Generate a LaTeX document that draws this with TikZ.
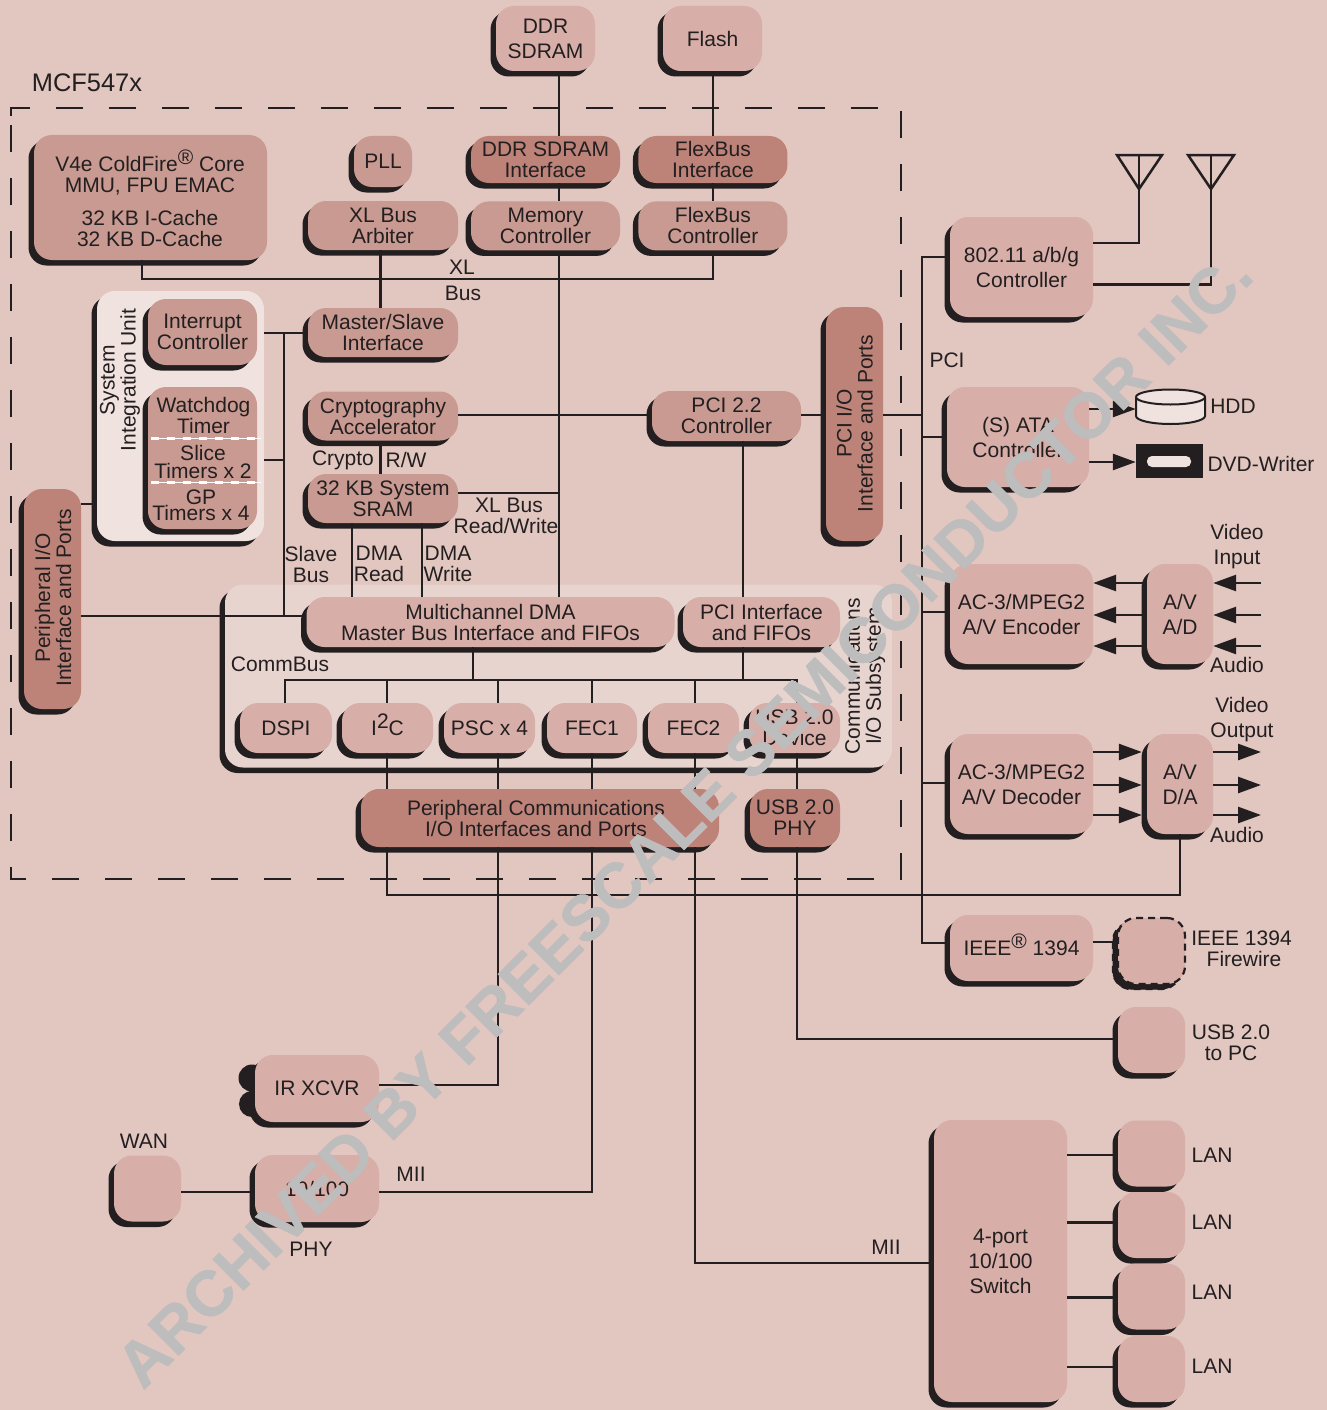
\documentclass[tikz,border=0pt]{standalone}
\usepackage{fontspec}
\setmainfont{Liberation Sans}
\newfontfamily\stampfont{Liberation Sans}[BoldFeatures={FakeBold=0.9}]
\usetikzlibrary{arrows.meta,positioning,shadows}

\definecolor{bgcol}{HTML}{E2C6C0}
\definecolor{linecol}{HTML}{231F20}
\definecolor{lightcol}{HTML}{D7AEA8}
\definecolor{midcol}{HTML}{C99A91}
\definecolor{darkcol}{HTML}{BD8379}
\definecolor{siucol}{HTML}{F0E3DF}
\definecolor{commcol}{HTML}{E8D4CF}
\definecolor{stampcol}{HTML}{BDBDBD}

\newcommand{\lift}[1]{\smash{\raisebox{6.5pt}{#1}}}

\begin{document}
\begin{tikzpicture}[x=1pt,y=-1pt,>=Stealth,
    tight/.style={font=\fontsize{21}{21}\selectfont},
    loose/.style={font=\fontsize{21}{25}\selectfont},
    main box/.style={rounded corners=18pt,inner sep=0pt,align=center,text=linecol,tight,
      drop shadow={shadow xshift=-5.5pt,shadow yshift=-5.5pt,fill=linecol,opacity=1}},
    light box/.style={main box,fill=lightcol},
    mid box/.style={main box,fill=midcol},
    dark box/.style={main box,fill=darkcol},
    bus box/.style={minimum width=150,minimum height=49},
    ext box/.style={light box,loose,minimum width=67,minimum height=66},
    av box/.style={light box,loose,minimum height=100},
    tag/.style={inner sep=0pt,align=center,text=linecol,tight},
    link/.style={draw=linecol,line width=2.7pt},
    feed/.style={link,-{Triangle[length=23pt,width=16pt]}}]

  \fill[bgcol] (0,0) rectangle (1327,1410);
  \useasboundingbox (0,0) rectangle (1327,1410);

  % chip outline
  \node[tag,font=\fontsize{25.4}{27}\selectfont] (chipname) at (87,83) {MCF547x};
  \draw[linecol,line width=2.7pt,dash pattern=on 27pt off 26pt]
    (11,116) -- (11,108) -- (901,108) -- (901,879) -- (11,879) -- (11,116);

  % panels
  \node[main box,fill=siucol,minimum width=167,minimum height=250] (siu) at (180.5,416) {};
  \node[main box,fill=commcol,minimum width=667,minimum height=183] (comm) at (558.5,676) {};
  \node[tag,rotate=90] (siutext) at (120,380) {System\\Integration Unit};
  \node[tag,rotate=90] (commtext) at (865,676) {Communications\\I/O Subsystem};

  % memory column
  \node[light box,loose,minimum width=99,minimum height=65] (ddrsdram) at (545.5,38.5) {DDR\\SDRAM};
  \node[light box,loose,minimum width=99,minimum height=65] (flash) at (712.5,38.5) {Flash};
  \node[dark box,minimum width=149,minimum height=47] (ddrif) at (545.5,159.5) {DDR SDRAM\\Interface};
  \node[dark box,minimum width=149,minimum height=47] (flexif) [right=18pt of ddrif] {FlexBus\\Interface};
  \node[mid box,minimum width=149,minimum height=49] (memctl) [below=18pt of ddrif] {Memory\\Controller};
  \node[mid box,minimum width=149,minimum height=49] (flexctl) [below=18pt of flexif] {FlexBus\\Controller};

  % core column
  \node[mid box,minimum width=233,minimum height=125] (core) at (150.5,197.5) {};
  \node[tag] (coretext) at (150,201)
    {V4e ColdFire\lift{®} Core\\MMU, FPU EMAC\\[12pt]32 KB I-Cache\\32 KB D-Cache};
  \node[mid box,minimum width=58,minimum height=51] (pll) at (383,161.5) {PLL};
  \node[mid box,bus box] (arbiter) at (383,225.5) {XL Bus\\Arbiter};
  \node[mid box,bus box] (master) at (383,332.5) {Master/Slave\\Interface};
  \node[mid box,bus box] (crypto) at (383,416) {Cryptography\\Accelerator};
  \node[mid box,bus box] (sram) at (383,498.5) {32 KB System\\SRAM};
  \node[mid box,minimum width=149,minimum height=50] (pci) at (726.5,416) {PCI 2.2\\Controller};

  % system integration unit
  \node[mid box,minimum width=109,minimum height=66] (irq) at (202.5,332) {Interrupt\\Controller};
  \node[mid box,minimum width=109,minimum height=142] (timers) at (202.5,458) {};
  \node[tag] (wdog) at (203.5,415) {Watchdog\\Timer};
  \node[tag,font=\fontsize{21}{17.5}\selectfont] (slice) at (203,462) {Slice\\Timers x 2};
  \node[tag,font=\fontsize{21}{16.5}\selectfont] (gptimer) at (201,505.5) {GP\\Timers x 4};
  \draw[white,line width=0.8pt] (151,438.5) -- (261,438.5) (151,482.5) -- (261,482.5);
  \draw[white,line width=3.5pt,dash pattern=on 8pt off 8pt] (151,438.5) -- (261,438.5)
    (151,482.5) -- (261,482.5);

  % ports
  \node[dark box,minimum width=57,minimum height=220] (perio) at (52.5,599) {};
  \node[tag,rotate=90] (periotext) at (53,598) {Peripheral I/O\\Interface and Ports};
  \node[dark box,minimum width=57,minimum height=234] (pcio) at (854.5,424) {};
  \node[tag,rotate=90] (pciotext) at (854.5,423.5) {PCI I/O\\Interface and Ports};

  % comm subsystem
  \node[light box,minimum width=368,minimum height=50] (dma) at (490.5,622) {Multichannel DMA\\Master Bus Interface and FIFOs};
  \node[light box,minimum width=157,minimum height=50] (pciif) at (761.5,622) {PCI Interface\\and FIFOs};
  \node[light box,minimum width=92,minimum height=50] (dspi) at (286,728) {DSPI};
  \node[light box,minimum width=91,minimum height=50] (iic) at (387.5,728) {I\lift{2}C};
  \node[light box,minimum width=91,minimum height=50] (psc) at (489.5,728) {PSC x 4};
  \node[light box,minimum width=90,minimum height=50] (fecone) at (592,728) {FEC1};
  \node[light box,minimum width=91,minimum height=50] (fectwo) at (693.5,728) {FEC2};
  \node[light box,minimum width=91,minimum height=50] (usbdev) at (794.5,728) {USB 2.0\\Device};
  \node[dark box,minimum width=358,minimum height=58] (percom) at (540,818) {};
  \node[tag] (percomtext) at (536,818.5) {Peripheral Communications\\I/O Interfaces and Ports};
  \node[dark box,minimum width=90,minimum height=58] (usbphy) at (795,818) {USB 2.0\\PHY};

  % right side
  \node[light box,loose,minimum width=143,minimum height=100] (wifi) at (1021.5,267) {802.11 a/b/g\\Controller};
  \node[light box,loose,minimum width=142,minimum height=100] (ata) at (1018,437) {(S) ATA\\Controller};
  \node[av box,minimum width=143] (encoder) at (1021.5,614) {AC-3/MPEG2\\A/V Encoder};
  \node[av box,minimum width=143] (decoder) at (1021.5,784) {AC-3/MPEG2\\A/V Decoder};
  \node[av box,minimum width=66] (avad) at (1180,614) {A/V\\A/D};
  \node[av box,minimum width=66] (avda) at (1180,784) {A/V\\D/A};
  \node[light box,minimum width=143,minimum height=66] (ieee) at (1021.5,948) {IEEE\lift{®} 1394};
  \node[ext box,draw=linecol,line width=2.2pt,dash pattern=on 7pt off 5pt,
    drop shadow={shadow xshift=-5pt,shadow yshift=-5pt,fill=linecol,draw=linecol,opacity=1}] (firewire) at (1151.5,951) {};
  \node[ext box] (usbpc) at (1151.5,1040) {};
  \node[light box,loose,minimum width=133,minimum height=282] (switch) at (1000.5,1261) {4-port\\10/100\\Switch};
  \node[ext box] (lanone) at (1151.5,1153.5) {};
  \node[ext box] (lantwo) at (1151.5,1225) {};
  \node[ext box] (lanthree) at (1151.5,1296.5) {};
  \node[ext box] (lanfour) at (1151.5,1369) {};

  % lower left
  \fill[linecol] (252,1078) circle (13.5pt) (252,1104) circle (13pt);
  \node[light box,minimum width=124,minimum height=67] (irxcvr) at (317,1088.5) {IR XCVR};
  \node[light box,minimum width=124,minimum height=67] (phy) at (317,1188.5) {10/100};
  \node[ext box] (wan) at (147.5,1188.5) {};

  % drives
  \fill[siucol] (1136,398) -- (1136,416) arc[start angle=180,end angle=360,x radius=34.5pt,y radius=8pt]
    -- (1205,398) -- cycle;
  \draw[linecol,line width=2pt] (1136,398) -- (1136,416) arc[start angle=180,end angle=360,x radius=34.5pt,y radius=8pt]
    -- (1205,398);
  \draw[linecol,line width=2pt,fill=siucol] (1170.5,397) ellipse[x radius=34.5pt,y radius=7.5pt];
  \node[inner sep=0pt,minimum width=69,minimum height=34] (hdd) at (1170.5,407) {};
  \node[fill=linecol,inner sep=0pt,minimum width=67,minimum height=34] (dvd) at (1169.5,461) {};
  \node[fill=siucol,rounded corners=5pt,inner sep=0pt,minimum width=44,minimum height=11] (dvdslot) at (1169,461.5) {};

  % antennas
  \coordinate (antone) at (1139,189);
  \coordinate (anttwo) at (1211,189);
  \draw[linecol,line width=2.5pt,line join=miter] (1117,155) -- (1162,155) -- (antone) -- cycle
    (1188,155) -- (1234,155) -- (anttwo) -- cycle;
  \draw[link] (1139,155) -- (antone) (1211,155) -- (anttwo);

  % connectors
  \path[link,every edge/.style={link}]
    (ddrsdram.south -| 559,0) edge (ddrif.north -| 559,0)
    (flash.south -| 713,0) edge (flexif.north -| 713,0)
    (ddrif.south -| 559,0) edge (memctl.north -| 559,0)
    (flexif.south -| 713,0) edge (flexctl.north -| 713,0)
    (memctl.south -| 559,0) edge (dma.north -| 559,0)
    (arbiter.south -| 380.5,0) edge (master.north -| 380.5,0)
    (crypto.south -| 380.5,0) edge (sram.north -| 380.5,0)
    (sram.south -| 352,0) edge (dma.north -| 352,0)
    (sram.south -| 422,0) edge (dma.north -| 422,0)
    (pci.south -| 743,0) edge (pciif.north -| 743,0)
    (crypto.east |- 0,415) edge (pci.west |- 0,415)
    (pci.east |- 0,415) edge (pcio.west |- 0,415)
    (pcio.east |- 0,415) edge (922,415)
    (sram.east |- 0,493) edge (559,493)
    (perio.east |- 0,504) edge (siu.west |- 0,504)
    (perio.east |- 0,616) edge (dma.west |- 0,616)
    (siu.east |- 0,460) edge (284,460)
    (dma.south -| 473,0) edge (473,680)
    (pciif.south -| 743,0) edge (743,680)
    (iic.north -| 387,0) edge (387,680)
    (psc.north -| 498,0) edge (498,680)
    (fecone.north -| 592,0) edge (592,680)
    (fectwo.north -| 695,0) edge (695,680)
    (iic.south -| 387,0) edge (percom.north -| 387,0)
    (psc.south -| 498,0) edge (percom.north -| 498,0)
    (fecone.south -| 592,0) edge (percom.north -| 592,0)
    (fectwo.south -| 695,0) edge (percom.north -| 695,0)
    (usbdev.south -| 797,0) edge (usbphy.north -| 797,0)
    (ata.west |- 0,437) edge (922,437)
    (encoder.west |- 0,612) edge (922,612)
    (decoder.west |- 0,783) edge (922,783)
    (ieee.east |- 0,942) edge (firewire.west |- 0,942)
    (wan.east |- 0,1192) edge (phy.west |- 0,1192)
    (switch.east |- 0,1155) edge (lanone.west |- 0,1155)
    (switch.east |- 0,1222.5) edge (lantwo.west |- 0,1222.5)
    (switch.east |- 0,1297.5) edge (lanthree.west |- 0,1297.5)
    (switch.east |- 0,1367) edge (lanfour.west |- 0,1367);
  \draw[link] (core.south -| 142,0) -- (142,279) -| (flexctl.south -| 713,0);
  \draw[link] (master.west |- 0,333) -- (siu.east |- 0,333);
  \draw[link] (284,333) -- (284,616);
  \draw[link] (dspi.north -| 285,0) -- (285,680) -| (usbdev.north -| 797,0);
  \draw[link] (percom.south -| 387,0) -- (387,895) -| (avda.south -| 1180,0);
  \draw[link] (percom.south -| 498,0) |- (irxcvr.east |- 0,1085);
  \draw[link] (percom.south -| 592,0) |- (phy.east |- 0,1192);
  \draw[link] (percom.south -| 695,0) |- (switch.west |- 0,1263);
  \draw[link] (usbphy.south -| 797,0) |- (usbpc.west |- 0,1039);
  \draw[link] (wifi.west |- 0,257) -- (922,257) -- (922,943) -- (ieee.west |- 0,943);
  \draw[link] (wifi.east |- 0,243) -| (antone);
  \draw[link] (wifi.east |- 0,284.5) -| (anttwo);

  % arrows
  \draw[feed] (ata.east |- 0,409) -- (hdd.west |- 0,409);
  \draw[feed] (ata.east |- 0,462) -- (dvd.west |- 0,462);
  \draw[feed] (avad.west |- 0,583) -- (encoder.east |- 0,583);
  \draw[feed] (avad.west |- 0,615) -- (encoder.east |- 0,615);
  \draw[feed] (avad.west |- 0,646) -- (encoder.east |- 0,646);
  \draw[feed,shorten >=5pt] (decoder.east |- 0,752) -- (avda.west |- 0,752);
  \draw[feed,shorten >=5pt] (decoder.east |- 0,785) -- (avda.west |- 0,785);
  \draw[feed,shorten >=5pt] (decoder.east |- 0,815) -- (avda.west |- 0,815);
  \coordinate (videoin) at (1261,583);
  \coordinate (midin) at (1261,615);
  \coordinate (audioin) at (1261,646);
  \coordinate (videoout) at (1261,752);
  \coordinate (midout) at (1261,785);
  \coordinate (audioout) at (1261,815);
  \draw[feed] (videoin) -- (avad.east |- videoin);
  \draw[feed] (midin) -- (avad.east |- midin);
  \draw[feed] (audioin) -- (avad.east |- audioin);
  \draw[feed] (avda.east |- videoout) -- (videoout);
  \draw[feed] (avda.east |- midout) -- (midout);
  \draw[feed] (avda.east |- audioout) -- (audioout);

  % labels
  \node[tag] (xllabel) at (462,267) {XL};
  \node[tag] (buslabel) at (463,293) {Bus};
  \node[tag] (cryptolabel) at (343,460) {Crypto};
  \node[tag] (rwlabel) at (406,460) {R/W};
  \node[tag] (slavelabel) at (311,564) {Slave\\Bus};
  \node[tag] (dmaread) at (379,564) {DMA\\Read};
  \node[tag] (dmawrite) at (448,564) {DMA\\Write};
  \node[tag] (xlrw) at (506,516) {\hspace*{6pt}XL Bus\\Read/Write};
  \node[tag] (commbus) at (280,664) {CommBus};
  \node[tag] (pcilabel) at (947,360) {PCI};
  \node[tag] (hddlabel) at (1233,406) {HDD};
  \node[tag] (dvdlabel) at (1261,464) {DVD-Writer};
  \node[tag,loose] (vinlabel) at (1237,547) {Video\\Input};
  \node[tag] (ainlabel) at (1237,665) {Audio};
  \node[tag,loose] (voutlabel) at (1242,720) {Video\\Output};
  \node[tag] (aoutlabel) at (1237,835) {Audio};
  \node[tag] (fwlabel) at (1241.5,949) {IEEE 1394\\\hspace*{5pt}Firewire};
  \node[tag] (pclabel) at (1231,1043) {USB 2.0\\to PC};
  \node[tag] (lanonelabel) at (1212,1155) {LAN};
  \node[tag] (lantwolabel) at (1212,1222) {LAN};
  \node[tag] (lanthreelabel) at (1212,1292) {LAN};
  \node[tag] (lanfourlabel) at (1212,1366) {LAN};
  \node[tag] (wanlabel) at (144,1141) {WAN};
  \node[tag] (phylabel) at (311,1249) {PHY};
  \node[tag] (miione) at (411,1174) {MII};
  \node[tag] (miitwo) at (886,1247) {MII};

  % stamp across the sheet
  \node[rotate=45,inner sep=0pt,text=stampcol,font=\stampfont\fontsize{63.7}{64}\selectfont\bfseries] (stamp) at (684,819)
    {ARCHIVED BY FREESCALE SEMICONDUCTOR INC.};
\end{tikzpicture}
\end{document}
